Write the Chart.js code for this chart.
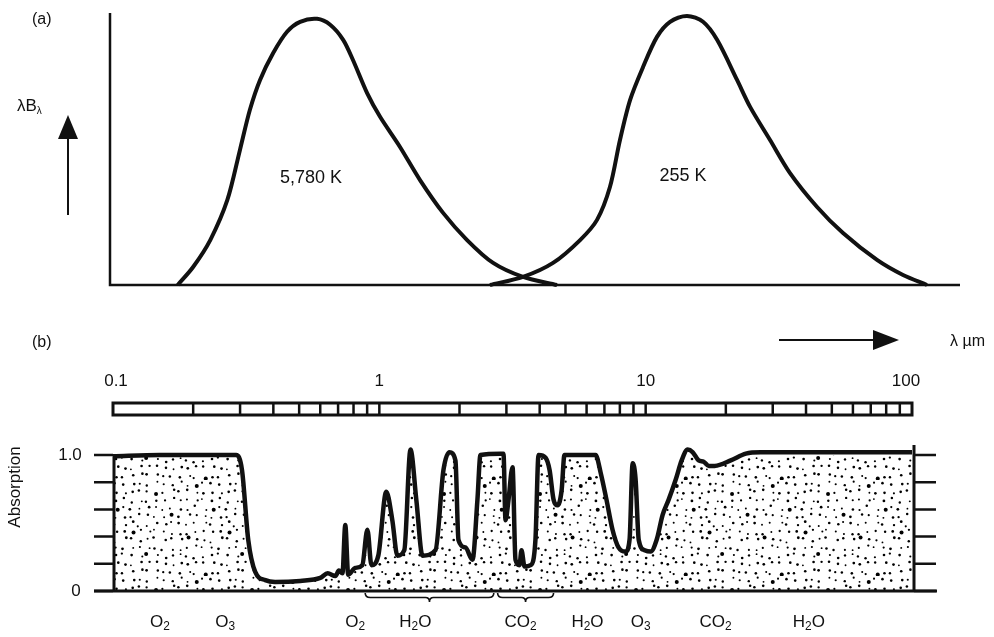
<!DOCTYPE html>
<html>
<head>
<meta charset="utf-8">
<script src="https://cdn.jsdelivr.net/npm/chart.js@4.4.1/dist/chart.umd.min.js"></script>
<style>
  body { margin: 0; background: #fff; }
  #wrap { position: relative; width: 994px; height: 637px; }
  canvas { position: absolute; left: 0; top: 0; }
</style>
</head>
<body>
<div id="wrap">
  <canvas id="spectrumChart" width="994" height="637"></canvas>
  <canvas id="absorptionChart" width="994" height="637"></canvas>
</div>
<script>
// (a) black body curves, wavelength in µm, λBλ scaled to the peak
const sunLambda = [0.175, 0.200, 0.232, 0.269, 0.300, 0.327, 0.357, 0.400, 0.451, 0.505, 0.585, 0.655,
                   0.733, 0.798, 0.902, 1.009, 1.199, 1.426, 1.741, 2.143, 2.685, 3.477, 4.667];
const sunValues = [0, 0.067, 0.167, 0.316, 0.502, 0.651, 0.762, 0.862, 0.941, 0.978, 0.989, 0.967,
                   0.911, 0.836, 0.713, 0.625, 0.513, 0.390, 0.268, 0.167, 0.082, 0.030, 0];
const earthLambda = [2.612, 3.477, 4.51, 5.70, 6.60, 7.38, 8.05, 8.79, 9.83, 11.09, 12.42, 14.38,
                     16.52, 18.66, 22.18, 24.83, 29.51, 35.08, 44.35, 55.51, 74.5, 93.3, 114.8];
const earthValues = [0, 0.030, 0.082, 0.167, 0.242, 0.364, 0.539, 0.688, 0.810, 0.922, 0.978, 1.0,
                     0.978, 0.911, 0.762, 0.662, 0.539, 0.416, 0.290, 0.193, 0.093, 0.037, 0];

// (b) atmospheric absorption
const absLambda = [0.1, 0.15, 0.29, 0.305, 0.322, 0.342, 0.373, 0.406, 0.505, 0.600, 0.640, 0.684, 0.705,
                   0.727, 0.745, 0.764, 0.812, 0.863, 0.902, 0.934, 0.991, 1.062, 1.119, 1.169, 1.241,
                   1.309, 1.377, 1.452, 1.625, 1.741, 1.834, 1.931, 1.982, 2.105, 2.238, 2.335, 2.397,
                   2.851, 2.925, 2.977, 3.055, 3.163, 3.245, 3.359, 3.418, 3.508, 3.698, 3.857, 3.960,
                   4.209, 4.357, 4.512, 4.671, 4.835, 4.956, 6.486, 6.776, 7.129, 7.509, 7.907, 8.407,
                   8.703, 8.936, 9.166, 9.419, 9.910, 10.44, 10.99, 11.58, 12.19, 12.97, 13.65, 14.38,
                   15.03, 15.81, 16.52, 17.25, 18.16, 20.87, 23.77, 27.05, 100];
const absValues = [0.99, 1.0, 1.0, 0.89, 0.375, 0.14, 0.08, 0.066, 0.074, 0.096, 0.13, 0.11, 0.15,
                   0.13, 0.485, 0.12, 0.17, 0.19, 0.45, 0.19, 0.26, 0.73, 0.52, 0.26, 0.30,
                   1.04, 0.67, 0.26, 0.30, 0.89, 1.02, 0.96, 0.375, 0.32, 0.23, 0.67, 1.0,
                   1.01, 1.01, 0.52, 0.67, 0.91, 0.23, 0.19, 0.30, 0.18, 0.19, 0.38, 1.0,
                   0.98, 0.89, 0.67, 0.63, 0.74, 1.0, 1.0, 0.87, 0.67, 0.45, 0.32, 0.29,
                   0.38, 0.94, 0.82, 0.375, 0.30, 0.29, 0.375, 0.56, 0.67, 0.82, 0.96, 1.04,
                   1.02, 0.96, 0.95, 0.92, 0.92, 0.96, 1.01, 1.02, 1.02];
const absTicks = [0, 0.2, 0.4, 0.6, 0.8, 1.0];
const rulerMarks = [0.2, 0.3, 0.4, 0.5, 0.6, 0.7, 0.8, 0.9, 1, 2, 3, 4, 5, 6, 7, 8, 9, 10,
                    20, 30, 40, 50, 60, 70, 80, 90];
const rulerLabels = [0.1, 1, 10, 100];
const gasNames = ['O_2', 'O_3', 'O_2', 'H_2O', 'CO_2', 'H_2O', 'O_3', 'CO_2', 'H_2O'];
const gasLambda = [0.150, 0.264, 0.812, 1.365, 3.39, 6.05, 9.57, 18.3, 41.0];
const braceRanges = [[0.885, 2.69], [2.78, 4.51]];

const FONT = '"Liberation Sans", Arial, sans-serif';
const INK = '#111';
const toPoints = (xs, ys) => xs.map((x, i) => ({ x: x, y: ys[i] }));

function arrow(ctx, x1, y1, x2, y2, head, half) {
  const a = Math.atan2(y2 - y1, x2 - x1);
  const bx = x2 - head * Math.cos(a), by = y2 - head * Math.sin(a);
  ctx.lineWidth = 2;
  ctx.beginPath(); ctx.moveTo(x1, y1); ctx.lineTo(bx, by); ctx.stroke();
  ctx.beginPath();
  ctx.moveTo(x2, y2);
  ctx.lineTo(bx + half * Math.sin(a), by - half * Math.cos(a));
  ctx.lineTo(bx - half * Math.sin(a), by + half * Math.cos(a));
  ctx.closePath(); ctx.fill();
}

// text like 'H_2O' -> H, subscript 2, O
function chemLabel(ctx, text, cx, y, size) {
  const parts = text.split(/_(\d)/);
  let w = 0;
  parts.forEach((p, i) => {
    ctx.font = (i % 2 ? size * 0.7 : size) + 'px ' + FONT;
    w += ctx.measureText(p).width;
  });
  let x = cx - w / 2;
  ctx.textAlign = 'left';
  ctx.textBaseline = 'middle';
  parts.forEach((p, i) => {
    ctx.font = (i % 2 ? size * 0.7 : size) + 'px ' + FONT;
    ctx.fillText(p, x, i % 2 ? y + 5 : y);
    x += ctx.measureText(p).width;
  });
}

function brace(ctx, x1, x2, y) {
  const xm = (x1 + x2) / 2, h = 9;
  ctx.lineWidth = 1.6;
  ctx.beginPath();
  ctx.moveTo(x1, y);
  ctx.quadraticCurveTo(x1, y + h / 2, x1 + 5, y + h / 2);
  ctx.lineTo(xm - 4, y + h / 2);
  ctx.quadraticCurveTo(xm, y + h / 2, xm, y + h);
  ctx.quadraticCurveTo(xm, y + h / 2, xm + 4, y + h / 2);
  ctx.lineTo(x2 - 5, y + h / 2);
  ctx.quadraticCurveTo(x2, y + h / 2, x2, y);
  ctx.stroke();
}

// stipple texture for the absorbed area (jittered dot grid)
function stipple() {
  const size = 96, step = 8;
  const c = document.createElement('canvas');
  c.width = size; c.height = size;
  const g = c.getContext('2d');
  g.fillStyle = '#fff'; g.fillRect(0, 0, size, size);
  g.fillStyle = '#000';
  let s = 11;
  const next = () => { s = (s * 9301 + 49297) % 233280; return s / 233280; };
  let n = 0;
  for (let gy = 0; gy < size; gy += step) {
    for (let gx = 0; gx < size; gx += step) {
      const r = (n++ % 19 === 0) ? 2.0 : 0.9 + next() * 0.5;
      g.beginPath();
      g.arc(gx + 1.5 + next() * 5, gy + 1.5 + next() * 5, r, 0, Math.PI * 2);
      g.fill();
    }
  }
  return g.createPattern(c, 'repeat');
}

const panelA = {
  id: 'panelA',
  beforeDatasetsDraw(chart) {
    const ctx = chart.ctx, a = chart.chartArea;
    ctx.save();
    ctx.strokeStyle = INK; ctx.lineWidth = 2.5;
    ctx.beginPath();
    ctx.moveTo(a.left, a.top - 1); ctx.lineTo(a.left, a.bottom); ctx.lineTo(a.right, a.bottom);
    ctx.stroke();
    ctx.restore();
  },
  afterDraw(chart) {
    const ctx = chart.ctx;
    ctx.save();
    ctx.fillStyle = INK; ctx.strokeStyle = INK;
    ctx.textBaseline = 'middle'; ctx.textAlign = 'left';
    ctx.font = '16px ' + FONT;
    ctx.fillText('(a)', 32, 20);
    ctx.fillText('(b)', 32, 343);
    ctx.fillText('λ µm', 950, 342);
    ctx.font = '17px ' + FONT;
    ctx.fillText('λB', 17, 106);
    const w = ctx.measureText('λB').width;
    ctx.font = '10px ' + FONT;
    ctx.fillText('λ', 17 + w, 111);
    ctx.font = '18px ' + FONT;
    ctx.textAlign = 'center';
    ctx.fillText('5,780 K', 311, 178);
    ctx.fillText('255 K', 683, 176);
    arrow(ctx, 68, 215, 68, 115, 24, 10);
    arrow(ctx, 779, 340, 899, 340, 26, 10);
    ctx.restore();
  }
};

const panelB = {
  id: 'panelB',
  afterDatasetsDraw(chart) {
    const ctx = chart.ctx, a = chart.chartArea;
    const x = chart.scales.x, y = chart.scales.y;
    const y0 = y.getPixelForValue(0);
    ctx.save();
    ctx.strokeStyle = INK; ctx.fillStyle = INK;
    // frame, baseline and ticks
    ctx.lineWidth = 3;
    ctx.beginPath();
    ctx.moveTo(a.left + 1, y.getPixelForValue(0.99)); ctx.lineTo(a.left + 1, y0);
    ctx.moveTo(a.right + 2, a.top - 10); ctx.lineTo(a.right + 2, y0);
    ctx.moveTo(a.left - 19, y0); ctx.lineTo(a.right + 25, y0);
    ctx.stroke();
    ctx.lineWidth = 2.5;
    absTicks.forEach(t => {
      const py = y.getPixelForValue(t);
      ctx.beginPath();
      ctx.moveTo(a.left - 19, py); ctx.lineTo(a.left, py);
      ctx.moveTo(a.right + 2, py); ctx.lineTo(a.right + 24, py);
      ctx.stroke();
    });
    ctx.font = '17px ' + FONT;
    ctx.textAlign = 'center'; ctx.textBaseline = 'middle';
    ctx.fillText('1.0', 70, y.getPixelForValue(1));
    ctx.fillText('0', 76, y0);
    ctx.save();
    ctx.translate(15, 487); ctx.rotate(-Math.PI / 2);
    ctx.fillText('Absorption', 0, 0);
    ctx.restore();

    // wavelength ruler above the panel
    const rt = a.top - 52, rb = a.top - 40;
    ctx.lineWidth = 3;
    ctx.strokeRect(a.left, rt, a.right - a.left, rb - rt);
    ctx.lineWidth = 2.5;
    rulerMarks.forEach(m => {
      const px = x.getPixelForValue(m);
      ctx.beginPath(); ctx.moveTo(px, rt); ctx.lineTo(px, rb); ctx.stroke();
    });
    ctx.font = '17px ' + FONT;
    rulerLabels.forEach(v => {
      const px = x.getPixelForValue(v);
      ctx.fillText(String(v), v === 100 ? px - 6 : (v === 0.1 ? px + 3 : px), a.top - 74);
    });

    // band braces and gas names
    braceRanges.forEach(r => brace(ctx, x.getPixelForValue(r[0]), x.getPixelForValue(r[1]), y0 + 2));
    ctx.fillStyle = INK;
    gasNames.forEach((g, i) => chemLabel(ctx, g, x.getPixelForValue(gasLambda[i]), y0 + 31, 17));
    ctx.restore();
  }
};

new Chart(document.getElementById('spectrumChart'), {
  type: 'line',
  data: {
    datasets: [
      { data: toPoints(sunLambda, sunValues), borderColor: INK, borderWidth: 4, pointRadius: 0,
        tension: 0.3, clip: false, fill: false },
      { data: toPoints(earthLambda, earthValues), borderColor: INK, borderWidth: 4, pointRadius: 0,
        tension: 0.3, clip: false, fill: false }
    ]
  },
  options: {
    responsive: false,
    animation: false,
    devicePixelRatio: 1,
    layout: { padding: { left: 110, right: 34, top: 14, bottom: 352 } },
    plugins: { legend: { display: false }, tooltip: { enabled: false } },
    scales: {
      x: { type: 'logarithmic', min: 0.0974, max: 152.8, display: false },
      y: { min: 0, max: 1.007, display: false }
    }
  },
  plugins: [panelA]
});

new Chart(document.getElementById('absorptionChart'), {
  type: 'line',
  data: {
    datasets: [{
      data: toPoints(absLambda, absValues),
      borderColor: INK,
      borderWidth: 4.5,
      backgroundColor: stipple(),
      fill: 'origin',
      pointRadius: 0,
      cubicInterpolationMode: 'monotone',
      clip: false
    }]
  },
  options: {
    responsive: false,
    animation: false,
    devicePixelRatio: 1,
    layout: { padding: { left: 113, right: 82, top: 455, bottom: 46 } },
    plugins: { legend: { display: false }, tooltip: { enabled: false } },
    scales: {
      x: { type: 'logarithmic', min: 0.1, max: 100, display: false },
      y: { min: 0, max: 1, display: false }
    }
  },
  plugins: [panelB]
});
</script>
</body>
</html>
